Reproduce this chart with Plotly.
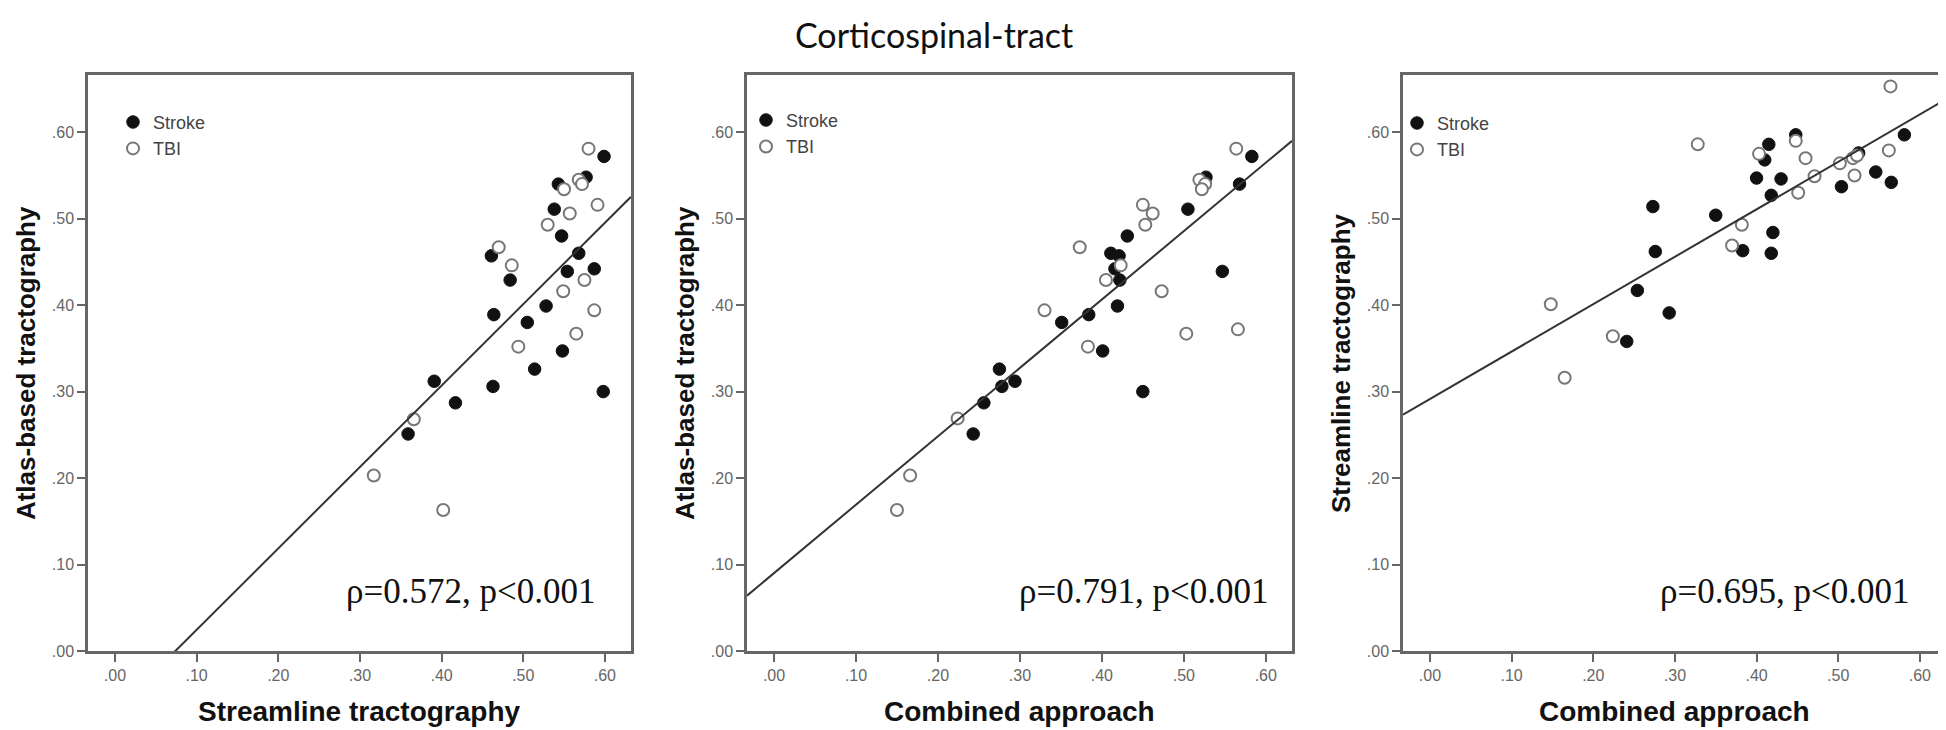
import plotly.graph_objects as go
from plotly.subplots import make_subplots

W, H = 1946, 730

# tick values / labels shared by all panels
tick_vals = [0.0, 0.1, 0.2, 0.3, 0.4, 0.5, 0.6]
tick_labels = [".00", ".10", ".20", ".30", ".40", ".50", ".60"]

# panel 1: streamline (x) vs atlas-based (y)
p1_stroke_x = [0.599, 0.577, 0.543, 0.538, 0.547, 0.461, 0.484, 0.568, 0.554, 0.587,
               0.528, 0.505, 0.464, 0.548, 0.514, 0.463, 0.598, 0.391, 0.417, 0.359]
p1_stroke_y = [0.572, 0.548, 0.540, 0.511, 0.480, 0.457, 0.429, 0.460, 0.439, 0.442,
               0.399, 0.380, 0.389, 0.347, 0.326, 0.306, 0.300, 0.312, 0.287, 0.251]
p1_tbi_x = [0.580, 0.568, 0.572, 0.550, 0.530, 0.557, 0.591, 0.470, 0.486, 0.575,
            0.549, 0.587, 0.565, 0.494, 0.366, 0.317, 0.402]
p1_tbi_y = [0.581, 0.545, 0.540, 0.534, 0.493, 0.506, 0.516, 0.467, 0.446, 0.429,
            0.416, 0.394, 0.367, 0.352, 0.268, 0.203, 0.163]

# panel 2: combined (x) vs atlas-based (y)
p2_stroke_x = [0.583, 0.568, 0.527, 0.505, 0.431, 0.411, 0.421, 0.416, 0.422, 0.419,
               0.547, 0.351, 0.384, 0.401, 0.275, 0.278, 0.294, 0.450, 0.256, 0.243]
p2_stroke_y = [0.572, 0.540, 0.548, 0.511, 0.480, 0.460, 0.457, 0.442, 0.429, 0.399,
               0.439, 0.380, 0.389, 0.347, 0.326, 0.306, 0.312, 0.300, 0.287, 0.251]
p2_tbi_x = [0.564, 0.519, 0.526, 0.522, 0.450, 0.462, 0.453, 0.373, 0.423, 0.405,
            0.473, 0.330, 0.566, 0.503, 0.383, 0.224, 0.166, 0.150]
p2_tbi_y = [0.581, 0.545, 0.540, 0.534, 0.516, 0.506, 0.493, 0.467, 0.446, 0.429,
            0.416, 0.394, 0.372, 0.367, 0.352, 0.269, 0.203, 0.163]

# panel 3: combined (x) vs streamline (y)
p3_stroke_x = [0.581, 0.448, 0.415, 0.410, 0.525, 0.400, 0.430, 0.418, 0.546, 0.565,
               0.504, 0.273, 0.350, 0.420, 0.418, 0.276, 0.383, 0.254, 0.293, 0.241]
p3_stroke_y = [0.597, 0.597, 0.586, 0.568, 0.576, 0.547, 0.546, 0.527, 0.554, 0.542,
               0.537, 0.514, 0.504, 0.484, 0.460, 0.462, 0.463, 0.417, 0.391, 0.358]
p3_tbi_x = [0.564, 0.328, 0.448, 0.403, 0.460, 0.502, 0.518, 0.562, 0.471, 0.520,
            0.451, 0.382, 0.370, 0.148, 0.224, 0.165, 0.523]
p3_tbi_y = [0.653, 0.586, 0.590, 0.575, 0.570, 0.564, 0.570, 0.579, 0.549, 0.550,
            0.530, 0.493, 0.469, 0.401, 0.364, 0.316, 0.573]

# fit lines (slope, intercept)
fit_slope = [0.9416, 0.791, 0.5485]
fit_intercept = [-0.0697, 0.0901, 0.2914]

rho_text = ["ρ=0.572, p<0.001", "ρ=0.791, p<0.001", "ρ=0.695, p<0.001"]
x_titles = ["Streamline tractography", "Combined approach", "Combined approach"]
y_titles = ["Atlas-based tractography", "Atlas-based tractography", "Streamline tractography"]
group_names = ["Stroke", "TBI"]

panels = [
    (p1_stroke_x, p1_stroke_y, p1_tbi_x, p1_tbi_y),
    (p2_stroke_x, p2_stroke_y, p2_tbi_x, p2_tbi_y),
    (p3_stroke_x, p3_stroke_y, p3_tbi_x, p3_tbi_y),
]

x_range = [-0.033, 0.632]
y_range = [0.0, 0.666]

# pixel boxes of the three frames
frames_px = [(80, 623), (739, 1284), (1395, 1938)]
top_px, bot_px = 68, 651

fig = make_subplots(rows=1, cols=3)

legend_ids = ["legend", "legend2", "legend3"]
for i, (sx, sy, tx, ty) in enumerate(panels):
    col = i + 1
    fig.add_trace(go.Scatter(x=sx, y=sy, mode="markers", name=group_names[0],
                             legend=legend_ids[i],
                             marker=dict(size=12.5, color="#111111",
                                         line=dict(color="#111111", width=1))),
                  row=1, col=col)
    fig.add_trace(go.Scatter(x=tx, y=ty, mode="markers", name=group_names[1],
                             legend=legend_ids[i],
                             marker=dict(size=12, color="white",
                                         line=dict(color="#777777", width=2))),
                  row=1, col=col)
    lx = [x_range[0], x_range[1]]
    ly = [fit_slope[i] * v + fit_intercept[i] for v in lx]
    fig.add_trace(go.Scatter(x=lx, y=ly, mode="lines", showlegend=False,
                             line=dict(color="#333333", width=2), hoverinfo="skip"),
                  row=1, col=col)

axis_style = dict(showgrid=False, zeroline=False, showline=True, mirror=True,
                  linecolor="#666666", linewidth=2.5, ticks="outside", ticklen=8,
                  tickwidth=2, tickcolor="#666666", tickvals=tick_vals,
                  ticktext=tick_labels,
                  tickfont=dict(family="Liberation Sans", size=16, color="#666666"))

y0 = 1 - bot_px / H
y1 = 1 - top_px / H
for i, (l, r) in enumerate(frames_px):
    col = i + 1
    fig.update_xaxes(axis_style, range=x_range, domain=[l / W, r / W], row=1, col=col)
    fig.update_yaxes(axis_style, range=y_range, domain=[y0, y1], row=1, col=col)

annotations = []
# main title
annotations.append(dict(text="Corticospinal-tract", x=926 / W, y=1 - 27 / H,
                        xref="paper", yref="paper", showarrow=False,
                        xanchor="center", yanchor="middle",
                        font=dict(family="Lato", size=34, color="#111111")))
rho_right_px = [589, 1262, 1903]
for i, (l, r) in enumerate(frames_px):
    annotations.append(dict(text="<b>" + x_titles[i] + "</b>", x=(l + r) / 2 / W,
                            y=1 - 712 / H, xref="paper", yref="paper",
                            showarrow=False, xanchor="center", yanchor="middle",
                            font=dict(family="Liberation Sans", size=28, color="#111111")))
    annotations.append(dict(text="<b>" + y_titles[i] + "</b>", x=(l - 62) / W,
                            y=(y0 + y1) / 2, xref="paper", yref="paper",
                            showarrow=False, xanchor="center", yanchor="middle",
                            textangle=-90,
                            font=dict(family="Liberation Sans", size=26, color="#111111")))
    annotations.append(dict(text=rho_text[i], x=rho_right_px[i] / W, y=1 - 591 / H,
                            xref="paper", yref="paper", showarrow=False,
                            xanchor="right", yanchor="middle",
                            font=dict(family="Liberation Serif", size=35, color="#111111")))

legend_px = [(125, 109), (758, 107), (1409, 110)]
legend_layout = {}
for i, (cx, cy) in enumerate(legend_px):
    legend_layout[legend_ids[i]] = dict(
        x=(cx - 20) / W, y=1 - (cy - 12) / H, xanchor="left", yanchor="top",
        bgcolor="rgba(0,0,0,0)", borderwidth=0, tracegroupgap=0,
        itemsizing="trace",
        font=dict(family="Liberation Sans", size=18, color="#444444"))

fig.update_layout(
    width=W, height=H,
    margin=dict(l=0, r=0, t=0, b=0),
    paper_bgcolor="white", plot_bgcolor="white",
    annotations=annotations,
    **legend_layout,
)

fig.write_html("out.html")
